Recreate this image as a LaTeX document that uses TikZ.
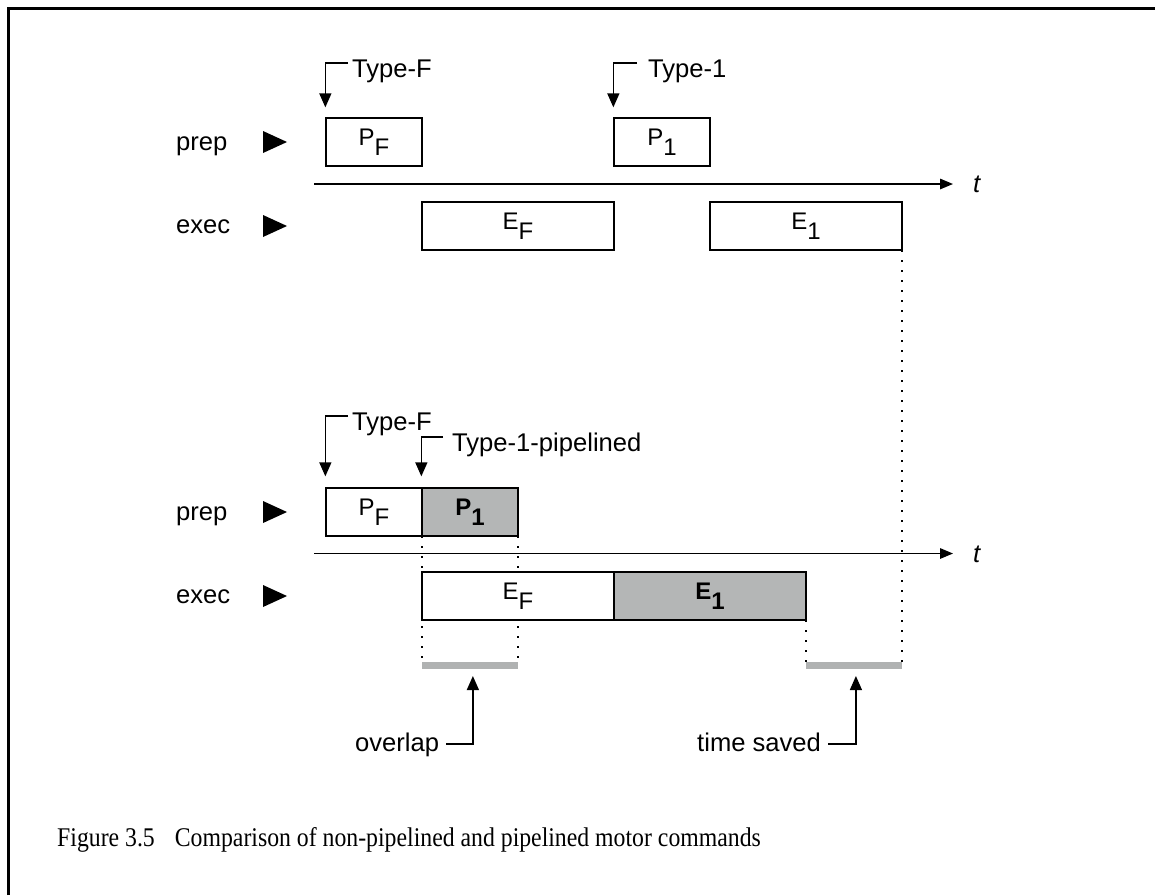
\documentclass[tikz,border=0pt]{standalone}
\usepackage{fontspec}
\setmainfont{Liberation Sans}
\newfontfamily\capfont[FakeStretch=0.88]{Liberation Serif}
\usetikzlibrary{arrows.meta,calc}
\definecolor{shade}{RGB}{180,182,182}
\definecolor{barc}{RGB}{176,178,178}
\begin{document}
\begin{tikzpicture}[x=1pt,y=-1pt,
  lbl/.style={font=\fontsize{25.6}{30}\selectfont, inner sep=0pt},
  tlbl/.style={font=\fontsize{25.6}{30}\selectfont\itshape, inner sep=0pt},
  tbox/.style={draw, line width=1.3pt, fill=white, minimum height=48pt, inner sep=0pt,
     font=\fontsize{24}{28}\selectfont, text height=17pt, text depth=9.5pt},
  sbox/.style={tbox, fill=shade, font=\fontsize{24}{28}\selectfont\bfseries},
  arr/.style={line width=1.3pt, -{Triangle[length=14pt,width=12pt]}},
  axis/.style={line width=1.5pt, -{Triangle[length=13pt,width=10.5pt]}},
  dots/.style={line width=1.6pt, dash pattern=on 1.6pt off 8.4pt},
  bar/.style={line width=7pt, draw=barc},
  rowmark/.style={fill=black}
]
\useasboundingbox (0,0) rectangle (1155,895);
% frame
\draw[line width=3.3pt, line join=miter] (8.3,895) -- (8.3,8.3) -- (1155,8.3);

% ---------- top diagram ----------
\node[lbl, anchor=base west] (prep1) at (176,150) {prep};
\node[lbl, anchor=base west] (exec1) at (176,233) {exec};
\fill[rowmark] (263,131) -- (287,142) -- (263,153) -- cycle;
\fill[rowmark] (263,215) -- (287,226) -- (263,237) -- cycle;

\coordinate (ax1s) at (314,184);
\coordinate (ax1e) at (953,184);
\node[tlbl, anchor=base west] (t1) at (973,192) {t};

% dotted line from E1 down to time saved bar
\coordinate (ts1) at (902,250);
\coordinate (ts2) at (902,665);
\draw[dots] (ts1) -- (ts2);

\node[tbox, minimum width=96pt] (pf1) at (374,142) {P\raisebox{-9.5pt}{F}};
\node[tbox, minimum width=96pt] (p11) at (662,142) {P\raisebox{-9.5pt}{1}};
\node[tbox, minimum width=192pt] (ef1) at (518,226) {E\raisebox{-9.5pt}{F}};
\node[tbox, minimum width=192pt] (e11) at (806,226) {E\raisebox{-9.5pt}{1}};
\draw[axis] (ax1s) -- (ax1e);

\node[lbl, anchor=base west] (tf1) at (352,77) {Type-F};
\coordinate (tf1c) at ($(tf1.base west)+(-4,-14)$);
\draw[arr] (tf1c) -| ($(pf1.north west)+(0,-10)$);

\node[lbl, anchor=base west] (t11) at (648,77) {Type-1};
\coordinate (t11c) at ($(t11.base west)+(-11,-14)$);
\draw[arr] (t11c) -| ($(p11.north west)+(0,-10)$);

% ---------- bottom diagram ----------
\node[lbl, anchor=base west] (prep2) at (176,520) {prep};
\node[lbl, anchor=base west] (exec2) at (176,603) {exec};
\fill[rowmark] (263,501) -- (287,512) -- (263,523) -- cycle;
\fill[rowmark] (263,585) -- (287,596) -- (263,607) -- cycle;

\coordinate (ax2s) at (314,553.5);
\coordinate (ax2e) at (953,553.5);
\node[tlbl, anchor=base west] (t2) at (973,562) {t};

\coordinate (d1a) at (422,536);
\coordinate (d1b) at (422,665);
\coordinate (d2a) at (518,536);
\coordinate (d2b) at (518,665);
\coordinate (d3a) at (806,620);
\coordinate (d3b) at (806,665);
\draw[dots] (d1a) -- (d1b);
\draw[dots] (d2a) -- (d2b);
\draw[dots] (d3a) -- (d3b);

\node[tbox, minimum width=96pt] (pf2) at (374,512) {P\raisebox{-9.5pt}{F}};
\node[sbox, minimum width=96pt] (p12) at (470,512) {P\raisebox{-9.5pt}{1}};
\node[tbox, minimum width=192pt] (ef2) at (518,596) {E\raisebox{-9.5pt}{F}};
\node[sbox, minimum width=192pt] (e12) at (710,596) {E\raisebox{-9.5pt}{1}};
\draw[axis] (ax2s) -- (ax2e);

\node[lbl, anchor=base west] (tf2) at (352,430) {Type-F};
\coordinate (tf2c) at ($(tf2.base west)+(-4,-14)$);
\draw[arr] (tf2c) -| ($(pf2.north west)+(0,-11)$);

\node[lbl, anchor=base west] (t1p) at (452,451) {Type-1-pipelined};
\coordinate (t1pc) at ($(t1p.base west)+(-9,-14)$);
\draw[arr] (t1pc) -| ($(p12.north west)+(0,-11)$);

% bars
\draw[bar] (d1b) -- (d2b);
\draw[bar] (d3b) -- (ts2);

\node[lbl, anchor=base west] (ovl) at (355,751) {overlap};
\coordinate (ovlc) at ($(ovl.base east)+(7,-7)$);
\draw[arr] (ovlc) -| ($(d1b)!0.53!(d2b)+(0,11)$);

\node[lbl, anchor=base west] (tsv) at (697,751) {time saved};
\coordinate (tsvc) at ($(tsv.base east)+(7,-7)$);
\draw[arr] (tsvc) -| ($(d3b)!0.52!(ts2)+(0,11)$);

% caption
\node[inner sep=0pt, anchor=base west, font=\capfont\fontsize{27}{31}\selectfont] (cap) at (57,846)
  {Figure 3.5\hspace{20pt}Comparison of non-pipelined and pipelined motor commands};
\end{tikzpicture}
\end{document}
